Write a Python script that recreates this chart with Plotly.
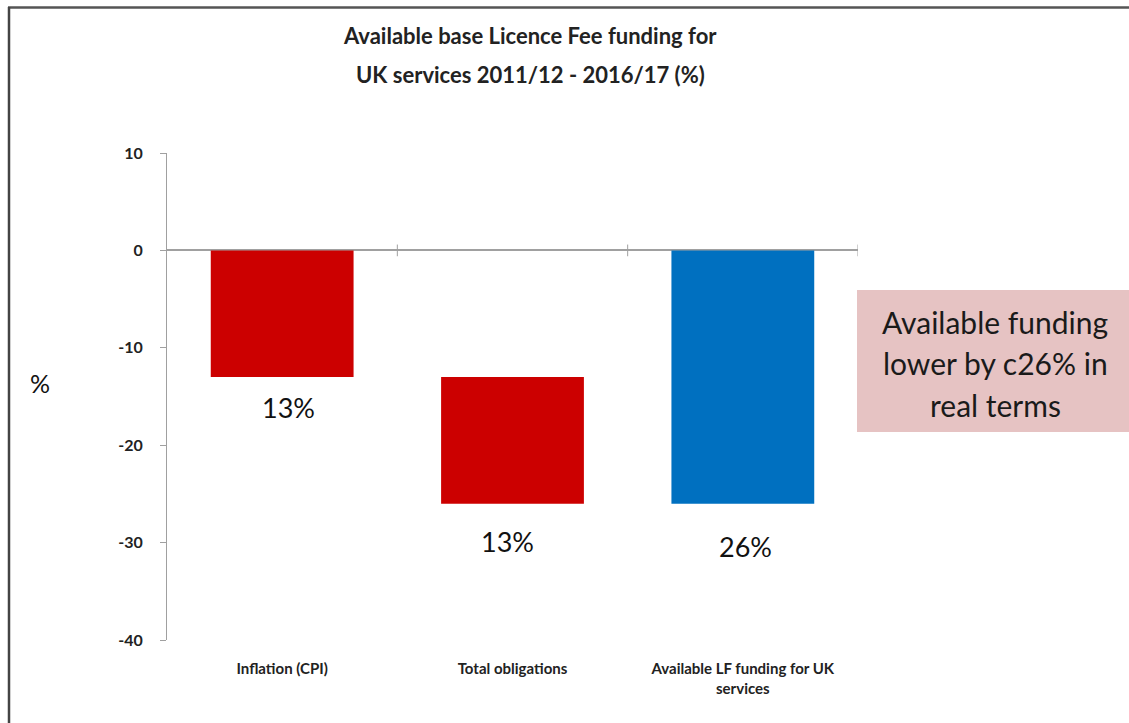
import plotly.graph_objects as go

categories = ["Inflation (CPI)", "Total obligations", "Available LF funding for UK<br>services"]
bar_bases = [0, -13, 0]
bar_values = [-13, -13, -26]
bar_colors = ["#CC0000", "#CC0000", "#0070C0"]
bar_labels = ["13%", "13%", "26%"]
y_ticks = [10, 0, -10, -20, -30, -40]
y_tick_text = ["10", "0", "-10", "-20", "-30", "-40"]
box_lines = ["Available funding", "lower by c26% in", "real terms"]

W, H = 1129, 723
L, R, T, B = 167, 858, 153, 640  # plot area in px


def px_x(px):
    return (px - L) / (R - L)


def px_y(py):
    return (B - py) / (B - T)


FONT = "Lato"

fig = go.Figure()
fig.add_trace(go.Bar(
    x=categories, y=bar_values, base=bar_bases,
    marker=dict(color=bar_colors, line=dict(width=0)),
    width=0.62, hoverinfo="skip",
))

label_shift = [-30, -38, -43]
label_xshift = [6, -5, 3]
for i, c in enumerate(categories):
    fig.add_annotation(x=c, y=bar_bases[i] + bar_values[i], xref="x", yref="y",
                       text=bar_labels[i], showarrow=False, yshift=label_shift[i],
                       xshift=label_xshift[i], yanchor="middle",
                       font=dict(family=FONT, size=27, color="#111"))

# boundary ticks on zero line
for xb in [0.5, 1.5, 2.5]:
    fig.add_shape(type="line", xref="x", yref="y", x0=xb, x1=xb, y0=-0.6, y1=0.6,
                  line=dict(color="#A0A0A0", width=1))

# title
for txt, py in [("Available base Licence Fee funding for", 35), ("UK services 2011/12 - 2016/17 (%)", 75)]:
    fig.add_annotation(xref="paper", yref="paper", x=px_x(530), y=px_y(py), text="<b>" + txt + "</b>",
                       showarrow=False, xanchor="center", yanchor="middle",
                       font=dict(family=FONT, size=22, color="#222"))

# y axis title
fig.add_annotation(xref="paper", yref="paper", x=px_x(40), y=px_y(383), text="%",
                   showarrow=False, xanchor="center", yanchor="middle",
                   font=dict(family=FONT, size=25, color="#111"))

# pink box
fig.add_shape(type="rect", xref="paper", yref="paper", x0=px_x(857), x1=px_x(W + 2),
              y0=px_y(432), y1=px_y(290), fillcolor="#E6C3C3", line=dict(width=0), layer="below")
for txt, py in zip(box_lines, [322, 363, 405]):
    fig.add_annotation(xref="paper", yref="paper", x=px_x(995), y=px_y(py), xanchor="center", yanchor="middle",
                       text=txt, showarrow=False,
                       font=dict(family=FONT, size=30, color="#1a1a1a"))

# frame lines
fig.add_shape(type="line", xref="paper", yref="paper", x0=px_x(8), x1=px_x(W), y0=px_y(7.5), y1=px_y(7.5),
              line=dict(color="#555", width=2.5))
fig.add_shape(type="line", xref="paper", yref="paper", x0=px_x(9), x1=px_x(9), y0=px_y(7), y1=px_y(H),
              line=dict(color="#444", width=2.5))

fig.update_layout(
    width=W, height=H,
    margin=dict(l=L, r=W - R, t=T, b=H - B),
    paper_bgcolor="white", plot_bgcolor="white",
    showlegend=False, bargap=0.38,
    xaxis=dict(showline=False, showgrid=False, zeroline=False, ticks="",
               tickmode="array", tickvals=categories,
               ticktext=["<b>" + c + "</b>" for c in categories],
               tickfont=dict(family=FONT, size=15, color="#222"),
               ticklabelstandoff=18, range=[-0.5, 2.5]),
    yaxis=dict(range=[-40, 10], tickmode="array", tickvals=y_ticks,
               ticktext=["<b>" + t + "</b>" for t in y_tick_text],
               showgrid=False, showline=True, linecolor="#A0A0A0",
               linewidth=1, ticks="outside", ticklen=6, tickcolor="#A0A0A0",
               zeroline=True, zerolinecolor="#A0A0A0", zerolinewidth=1.5,
               tickfont=dict(family=FONT, size=16, color="#222"),
               ticklabelstandoff=14),
)

fig.write_html("out.html")
